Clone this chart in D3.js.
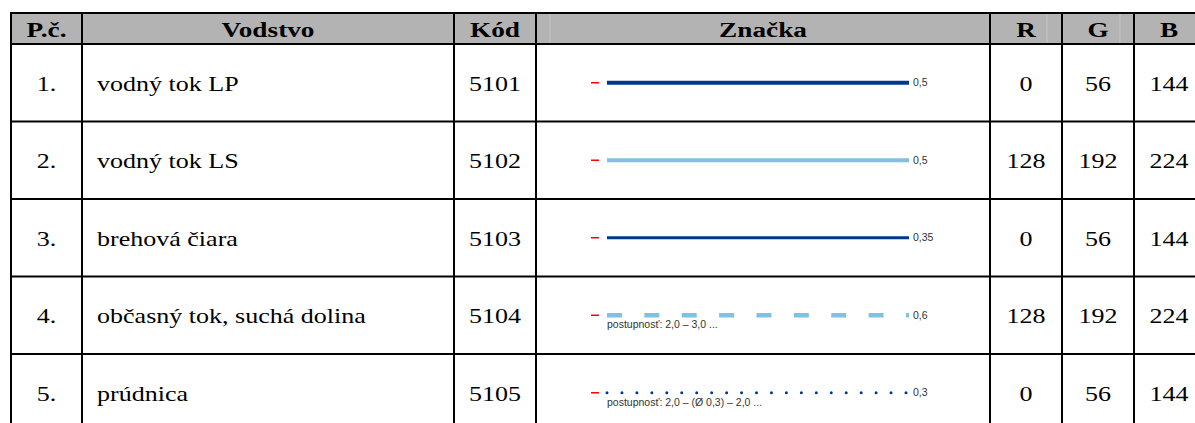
<!DOCTYPE html>
<html>
<head>
<meta charset="utf-8">
<script src="https://cdn.jsdelivr.net/npm/d3@7"></script>
<style>
  body { margin: 0; background: #fff; }
  svg { display: block; }
</style>
</head>
<body>
<script>
// table contents
var headers = ["P.č.", "Vodstvo", "Kód", "Značka", "R", "G", "B"];
var rowNums = ["1.", "2.", "3.", "4.", "5."];
var names = ["vodný tok LP", "vodný tok LS", "brehová čiara", "občasný tok, suchá dolina", "prúdnica"];
var codes = ["5101", "5102", "5103", "5104", "5105"];
var rVals = [0, 128, 0, 128, 0];
var gVals = [56, 192, 56, 192, 56];
var bVals = [144, 224, 144, 224, 144];
var widthMm = [0.5, 0.5, 0.35, 0.6, 0.3];
var widthLabels = ["0,5", "0,5", "0,35", "0,6", "0,3"];
var dashMm = [null, null, null, [2.0, 3.0], [0, 2.0]];
var notes = ["", "", "", "postupnosť: 2,0 – 3,0 ...", "postupnosť: 2,0 – (Ø 0,3) – 2,0 ..."];

var W = 1195, H = 423;
// column edges of the table (the right border sits just past the window)
var colEdges = [11, 82, 454, 536, 990, 1062, 1134, 1204];
var headTop = 13, headBottom = 44;
var stretch = 1.24; // the source picture is stretched horizontally

var svg = d3.select("body").append("svg")
    .attr("width", W)
    .attr("height", H);

// row positions
var y = d3.scaleBand()
    .domain(d3.range(rowNums.length))
    .range([headBottom, headBottom + 77.5 * rowNums.length]);

// sample line: length in mm -> px
var mm = d3.scaleLinear().domain([0, 40.4]).range([607, 909]);
var pxPerMm = mm(1) - mm(0);
var strokePx = function (w) { return 1 + 6 * w; };

// header background
svg.append("rect")
    .attr("x", colEdges[0]).attr("y", headTop)
    .attr("width", colEdges[colEdges.length - 1] - colEdges[0])
    .attr("height", headBottom - headTop)
    .attr("fill", "#b3b3b3");

// faint lines inside header
[550, 1047, 1120].forEach(function (x) {
    svg.append("line")
        .attr("x1", x).attr("x2", x)
        .attr("y1", headTop + 1).attr("y2", headBottom - 1)
        .attr("stroke", "#c6c6c6").attr("stroke-width", 1);
});

function colMid(i) { return (colEdges[i] + colEdges[i + 1]) / 2; }

function stretchedText(x, yy, txt, anchor, bold) {
    svg.append("text")
        .attr("transform", "translate(" + x + "," + yy + ") scale(" + stretch + ",1)")
        .attr("text-anchor", anchor)
        .style("font-family", "'Liberation Serif', 'Times New Roman', Times, serif")
        .attr("font-size", bold ? 22 : 21)
        .attr("font-weight", bold ? "bold" : "normal")
        .attr("fill", "#000")
        .text(txt);
}

// header texts
headers.forEach(function (h, i) {
    stretchedText(colMid(i), 36.5, h, "middle", true);
});

// body rows
rowNums.forEach(function (n, i) {
    var cy = y(i) + y.bandwidth() / 2;
    var base = cy + 8;
    stretchedText(colMid(0), base, n, "middle", false);
    stretchedText(colEdges[1] + 15, base, names[i], "start", false);
    stretchedText(colMid(2), base, codes[i], "middle", false);
    stretchedText(colMid(4), base, rVals[i], "middle", false);
    stretchedText(colMid(5), base, gVals[i], "middle", false);
    stretchedText(colMid(6), base, bVals[i], "middle", false);

    var colour = d3.rgb(rVals[i], gVals[i], bVals[i]);

    // red insertion mark
    svg.append("line")
        .attr("x1", 591).attr("x2", 599)
        .attr("y1", cy).attr("y2", cy)
        .attr("stroke", "#ff0000").attr("stroke-width", 1.5);

    var ln = svg.append("line")
        .attr("x1", mm(0)).attr("x2", mm(40.4))
        .attr("y1", cy).attr("y2", cy)
        .attr("stroke", colour)
        .attr("stroke-width", strokePx(widthMm[i]));
    if (dashMm[i]) {
        var d = dashMm[i];
        if (d[0] === 0) {
            // dotted
            ln.attr("x2", mm(40))
              .attr("stroke-width", 3)
              .attr("stroke-linecap", "round")
              .attr("stroke-dasharray", "0," + (d[1] * pxPerMm));
        } else {
            ln.attr("stroke-dasharray", (d[0] * pxPerMm) + "," + (d[1] * pxPerMm));
        }
    }

    svg.append("text")
        .attr("x", 913).attr("y", cy + 3.5)
        .style("font-family", "'Liberation Sans', Arial, sans-serif")
        .attr("font-size", 10.5)
        .attr("fill", "#333")
        .text(widthLabels[i]);

    if (notes[i]) {
        svg.append("text")
            .attr("x", 607).attr("y", cy + 13)
            .style("font-family", "'Liberation Sans', Arial, sans-serif")
            .attr("font-size", 10.5)
            .attr("fill", "#333")
            .text(notes[i]);
    }
});

// grid lines
var rowEdges = [headTop, headBottom].concat(d3.range(1, rowNums.length).map(function (i) { return y(i); }));
var bottom = y(rowNums.length - 1) + y.bandwidth();
rowEdges.forEach(function (ry) {
    svg.append("line")
        .attr("x1", colEdges[0] - 1).attr("x2", colEdges[colEdges.length - 1] + 1)
        .attr("y1", ry).attr("y2", ry)
        .attr("stroke", "#000").attr("stroke-width", 2);
});
colEdges.forEach(function (cx) {
    svg.append("line")
        .attr("x1", cx).attr("x2", cx)
        .attr("y1", headTop - 1).attr("y2", bottom)
        .attr("stroke", "#000").attr("stroke-width", 2);
});
</script>
</body>
</html>
